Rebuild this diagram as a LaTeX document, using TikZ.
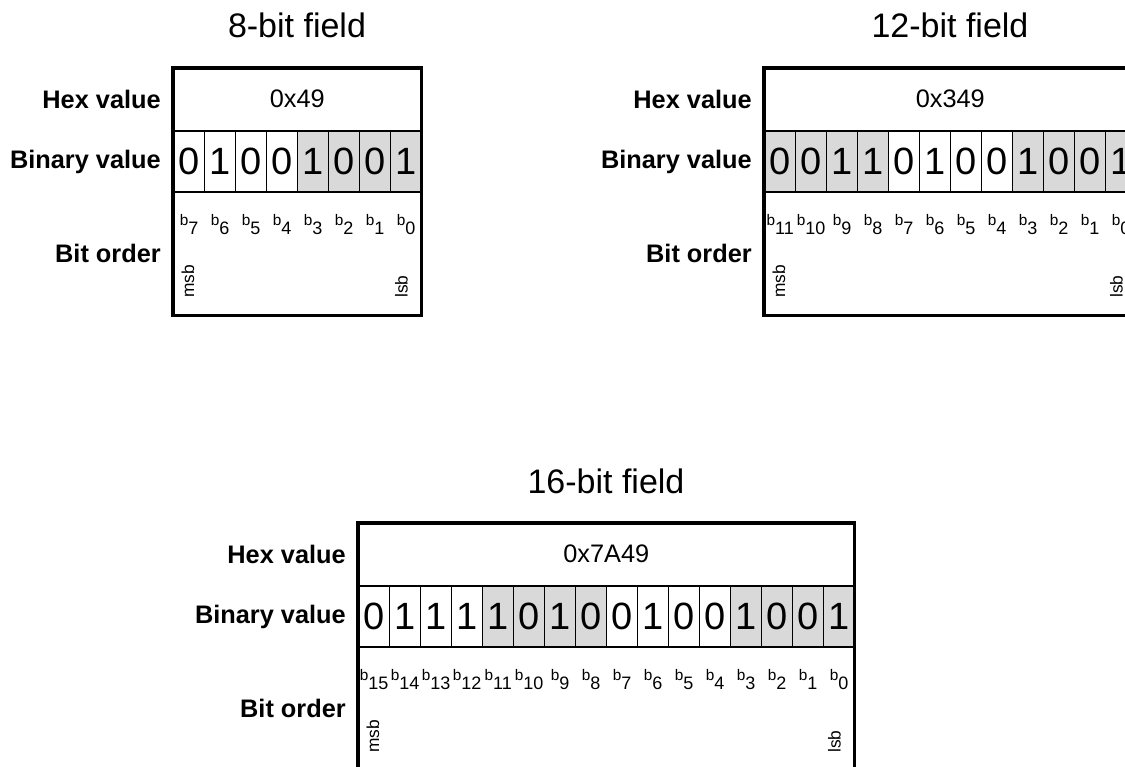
\documentclass[tikz,border=0pt]{standalone}
\usepackage{fontspec}
\setmainfont{Liberation Sans}
\usetikzlibrary{positioning,calc}

\definecolor{nibble}{HTML}{D9D9D9}

\tikzset{
  fieldtitle/.style={anchor=base, inner sep=0pt, font=\fontsize{25.5}{30}\selectfont},
  rowlabel/.style={inner sep=0pt, font=\bfseries\fontsize{19}{22}\selectfont},
  rowbox/.style={minimum height=46.5pt, inner sep=0pt, anchor=north west, font=\fontsize{19}{22}\selectfont},
  bitcell/.style={draw, line width=1pt, minimum width=23.25pt, minimum height=46.5pt, inner sep=0pt, anchor=north west, font=\fontsize{28.5}{32}\selectfont},
  bitname/.style={anchor=base, inner sep=0pt, font=\fontsize{11.5}{13}\selectfont},
  sidemark/.style={rotate=90, anchor=base west, inner sep=0pt, font=\fontsize{13}{15}\selectfont},
  outline/.style={line width=2.4pt},
  rowline/.style={line width=1.5pt}
}

\newcommand{\bitfield}[6]{%
  \pgfmathsetmacro{\fieldw}{31*#4}
  \pgfmathtruncatemacro{\topbit}{#4-1}
  \coordinate (#1) at (#2,#3);
  \node[fieldtitle] (#1title) at ($(#1)+(\fieldw/2,-30)$) {#4-bit field};
  \node[rowbox, minimum width=\fieldw*0.75pt] (#1hex) at (#1) {#5};
  \foreach \v [count=\idx from 0] in {#6} {
    \pgfmathtruncatemacro{\bitno}{#4-1-\idx}
    \pgfmathtruncatemacro{\grp}{mod(floor(\bitno/4),2)}
    \ifnum\grp=0 \def\cellfill{nibble}\else\def\cellfill{white}\fi
    \node[bitcell, fill=\cellfill] (#1c\bitno) at ($(#1)+(31*\idx,62)$) {\v};
    \node[bitname] (#1b\bitno) at ($(#1c\bitno.south)+(0,32)$) {b\raisebox{-6.5pt}{\fontsize{13.5}{15}\selectfont\bitno}};
  }
  \node[rowbox, minimum width=\fieldw*0.75pt, minimum height=92.25pt] (#1ord) at ($(#1)+(0,124)$) {};
  \node[sidemark] (#1msb) at ($(#1ord.north west)+(21,106)$) {msb};
  \node[sidemark] (#1lsb) at ($(#1ord.north east)+(-14,106)$) {lsb};
  \draw[rowline] (#1hex.south west) -- (#1hex.south east);
  \draw[rowline] (#1ord.north west) -- (#1ord.north east);
  \draw[outline] (#1hex.north west) rectangle (#1ord.south east);
  \node[rowlabel, left=9pt of #1hex] (#1lhex) {Hex value};
  \node[rowlabel, left=9pt of #1c\topbit] (#1lbin) {Binary value};
  \node[rowlabel, left=9pt of #1ord] (#1lord) {Bit order};
}

\begin{document}
\begin{tikzpicture}[x=0.75pt, y=-0.75pt]
\useasboundingbox (0,0) rectangle (1125,767);
\bitfield{fa}{173}{68}{8}{0x49}{0,1,0,0,1,0,0,1}
\bitfield{fb}{764}{68}{12}{0x349}{0,0,1,1,0,1,0,0,1,0,0,1}
\bitfield{fc}{358}{523}{16}{0x7A49}{0,1,1,1,1,0,1,0,0,1,0,0,1,0,0,1}
\end{tikzpicture}
\end{document}
